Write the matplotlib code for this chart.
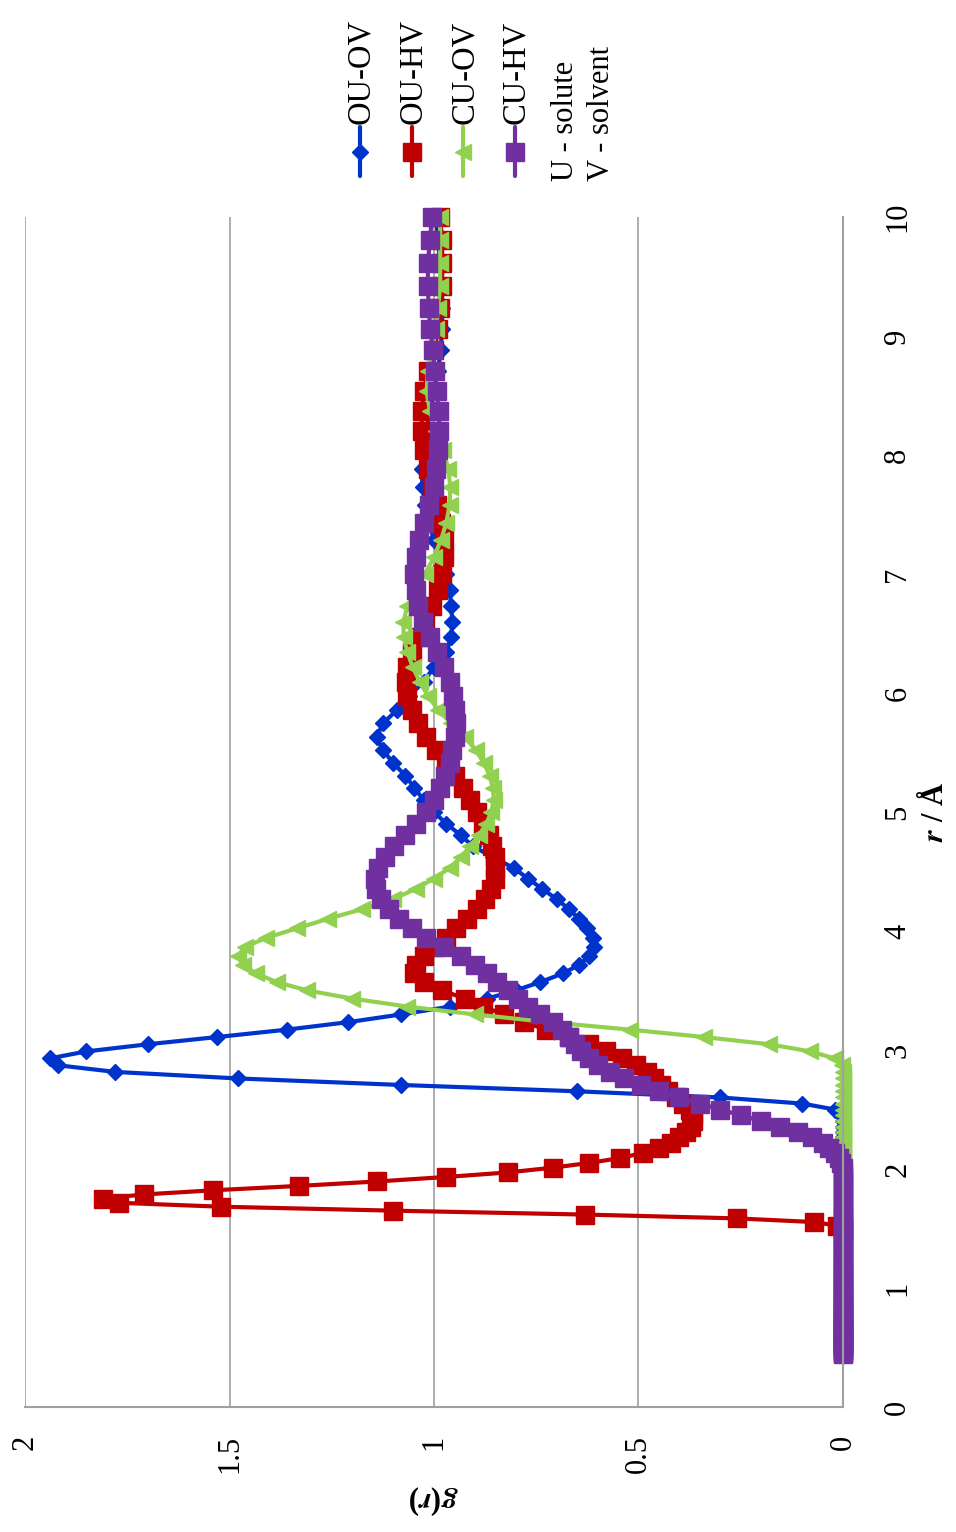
import matplotlib.pyplot as plt

plt.rcParams['font.family'] = ['Liberation Serif', 'DejaVu Serif']
plt.rcParams['mathtext.fontset'] = 'stix'

# radial grid (Å), logarithmic spacing
r = [
    0.446, 0.455, 0.464, 0.474, 0.483, 0.493, 0.503, 0.513, 0.523, 0.533,
    0.544, 0.555, 0.566, 0.577, 0.589, 0.601, 0.613, 0.625, 0.637, 0.650,
    0.663, 0.676, 0.690, 0.704, 0.718, 0.732, 0.747, 0.762, 0.777, 0.792,
    0.808, 0.825, 0.841, 0.858, 0.875, 0.893, 0.910, 0.929, 0.947, 0.966,
    0.986, 1.005, 1.025, 1.046, 1.067, 1.088, 1.110, 1.132, 1.155, 1.178,
    1.202, 1.226, 1.250, 1.275, 1.301, 1.327, 1.353, 1.380, 1.408, 1.436,
    1.465, 1.494, 1.524, 1.554, 1.585, 1.617, 1.650, 1.683, 1.716, 1.751,
    1.786, 1.821, 1.858, 1.895, 1.933, 1.971, 2.011, 2.051, 2.092, 2.134,
    2.177, 2.220, 2.265, 2.310, 2.356, 2.403, 2.451, 2.500, 2.550, 2.601,
    2.653, 2.706, 2.761, 2.816, 2.872, 2.929, 2.988, 3.048, 3.109, 3.171,
    3.234, 3.299, 3.365, 3.432, 3.501, 3.571, 3.643, 3.715, 3.790, 3.865,
    3.943, 4.022, 4.102, 4.184, 4.268, 4.353, 4.440, 4.529, 4.619, 4.712,
    4.806, 4.902, 5.000, 5.100, 5.202, 5.306, 5.412, 5.521, 5.631, 5.744,
    5.859, 5.976, 6.095, 6.217, 6.342, 6.468, 6.598, 6.730, 6.864, 7.002,
    7.142, 7.284, 7.430, 7.579, 7.730, 7.885, 8.043, 8.203, 8.368, 8.535,
    8.706, 8.880, 9.057, 9.238, 9.423, 9.612, 9.804, 10.000,
]

# g(r) for each pair; every series ends at r = 10 Å
ou_ov = [
    0, 0, 0, 0,
    0, 0, 0, 0, 0, 0, 0.003, 0.02, 0.10, 0.30,
    0.65, 1.08, 1.48, 1.78, 1.92, 1.94, 1.85, 1.70, 1.53, 1.36,
    1.21, 1.08, 0.96, 0.87, 0.80, 0.74, 0.685, 0.645, 0.62, 0.61,
    0.612, 0.625, 0.645, 0.67, 0.70, 0.735, 0.77, 0.805, 0.855, 0.905,
    0.935, 0.97, 1.0, 1.025, 1.048, 1.07, 1.10, 1.125, 1.14, 1.125,
    1.09, 1.06, 1.025, 1.0, 0.97, 0.958, 0.955, 0.958, 0.962, 0.97,
    0.985, 1.0, 1.012, 1.022, 1.028, 1.03, 1.026, 1.02, 1.01, 1.0,
    0.99, 0.984, 0.98, 0.98, 0.98, 0.985, 0.99, 0.995,
]
ou_hv = [
    0, 0, 0.015, 0.07, 0.26, 0.63, 1.10, 1.52, 1.77, 1.81,
    1.71, 1.54, 1.33, 1.14, 0.97, 0.82, 0.71, 0.62, 0.545, 0.49,
    0.45, 0.42, 0.40, 0.385, 0.372, 0.366, 0.367, 0.375, 0.39, 0.408,
    0.428, 0.445, 0.462, 0.48, 0.505, 0.54, 0.58, 0.62, 0.67, 0.725,
    0.78, 0.83, 0.88, 0.925, 0.98, 1.025, 1.05, 1.045, 1.025, 1.0,
    0.97, 0.945, 0.92, 0.895, 0.875, 0.86, 0.852, 0.85, 0.852, 0.857,
    0.866, 0.88, 0.895, 0.912, 0.928, 0.948, 0.97, 0.995, 1.02, 1.04,
    1.055, 1.065, 1.068, 1.065, 1.055, 1.04, 1.022, 1.005, 0.99, 0.98,
    0.975, 0.975, 0.982, 0.993, 1.005, 1.015, 1.025, 1.03, 1.03, 1.025,
    1.015, 1.0, 0.99, 0.985, 0.98, 0.98, 0.98, 0.985,
]
cu_ov = [
    0, 0, 0, 0,
    0, 0, 0, 0, 0, 0, 0, 0, 0, 0,
    0, 0, 0, 0, 0.003, 0.02, 0.08, 0.18, 0.34, 0.52,
    0.72, 0.90, 1.065, 1.20, 1.31, 1.385, 1.435, 1.467, 1.48, 1.462,
    1.41, 1.335, 1.26, 1.175, 1.10, 1.045, 1.0, 0.962, 0.935, 0.912,
    0.89, 0.872, 0.86, 0.854, 0.856, 0.864, 0.878, 0.898, 0.925, 0.958,
    0.99, 1.015, 1.035, 1.052, 1.065, 1.074, 1.075, 1.065, 1.045, 1.022,
    1.0, 0.983, 0.97, 0.962, 0.96, 0.965, 0.978, 0.995, 1.01, 1.018,
    1.015, 1.005, 0.995, 0.99, 0.985, 0.985, 0.985, 0.985,
]
cu_hv = [0.0] * 77 + [
    0.004, 0.01, 0.02,
    0.035, 0.05, 0.075, 0.11, 0.155, 0.20, 0.25, 0.30, 0.35, 0.40,
    0.45, 0.495, 0.535, 0.57, 0.598, 0.62, 0.64, 0.655, 0.67, 0.687,
    0.71, 0.74, 0.77, 0.795, 0.82, 0.845, 0.87, 0.90, 0.935, 0.975,
    1.02, 1.055, 1.085, 1.11, 1.13, 1.142, 1.145, 1.137, 1.12, 1.097,
    1.07, 1.045, 1.02, 1.0, 0.985, 0.972, 0.962, 0.955, 0.949, 0.946,
    0.948, 0.953, 0.962, 0.976, 0.993, 1.01, 1.026, 1.038, 1.045, 1.048,
    1.045, 1.036, 1.025, 1.012, 1.0, 0.994, 0.99, 0.987, 0.988, 0.993,
    0.998, 1.003, 1.009, 1.013, 1.015, 1.015, 1.01, 1.005,
]

labels = ['OU-OV', 'OU-HV', 'CU-OV', 'CU-HV']
colors = ['#0033cc', '#c00000', '#92d050', '#7030a0']
markers = ['D', 's', '<', 's']
sizes = [8.5, 12.5, 11, 12.5]
g_ticks = [0, 0.5, 1, 1.5, 2]
g_ticklabels = ['0', '0.5', '1', '1.5', '2']
r_ticks = list(range(11))

W, H = 956, 1532
fig = plt.figure(figsize=(W / 100, H / 100), dpi=100)

# the plot is laid on its side: g(r) runs right-to-left, r runs upward
ax = fig.add_axes([25 / W, 125 / H, 818 / W, 1190 / H])
for g, c, m, ms in zip([ou_ov, ou_hv, cu_ov, cu_hv], colors, markers, sizes):
    ax.plot(g, r[-len(g):], color=c, lw=3, marker=m, ms=ms,
            mfc=c, mec=c, clip_on=False)

ax.set_xlim(2, 0)
ax.set_ylim(0, 10)
ax.set_xticks(g_ticks)
ax.set_xticklabels(g_ticklabels, rotation=90)
ax.set_yticks(r_ticks)
ax.set_yticklabels([str(t) for t in r_ticks], rotation=90)
ax.yaxis.tick_right()
for lab in ax.get_yticklabels():
    lab.set_va('center')
ax.tick_params(axis='both', length=0, labelsize=22)
ax.tick_params(axis='x', pad=20)
ax.tick_params(axis='y', pad=29)
ax.grid(axis='x', color='#a0a0a0', lw=1.2)
ax.grid(axis='y', visible=False)
ax.set_axisbelow(True)
for side in ['top', 'left']:
    ax.spines[side].set_visible(False)
for side in ['right', 'bottom']:
    ax.spines[side].set_color('#a0a0a0')
    ax.spines[side].set_linewidth(1.5)

ax.set_xlabel(r'$\mathbfit{g}$($\mathbfit{r}$)', rotation=180, fontsize=22,
              fontweight='bold', va='center', ha='center')
ax.xaxis.set_label_coords(0.4988, -0.078)
ax.yaxis.set_label_position('right')
ax.set_ylabel(r'$\mathbfit{r}$ / Å', rotation=90, fontsize=22,
              fontweight='bold', va='center', ha='center')
ax.yaxis.set_label_coords(1.1125, 0.5)

# legend, drawn upright along the top edge in pixel coordinates
lax = fig.add_axes([0, 0, 1, 1])
lax.set_xlim(0, W)
lax.set_ylim(H, 0)
lax.axis('off')
for i, (lab, c, m, ms) in enumerate(zip(labels, colors, markers, sizes)):
    x = 360 + 51.7 * i
    lax.plot([x, x], [127, 176], color=c, lw=3, solid_capstyle='round')
    lax.plot([x], [152], marker=m, ms=ms, color=c, mec=c)
    lax.text(x + 1, 124, lab, rotation=90, ha='center', va='bottom',
             fontsize=23.5)
lax.text(566, 181, 'U - solute', rotation=90, ha='center', va='bottom',
         fontsize=22)
lax.text(602, 181, 'V - solvent', rotation=90, ha='center', va='bottom',
         fontsize=22)

fig.savefig('out.png', dpi=100)
